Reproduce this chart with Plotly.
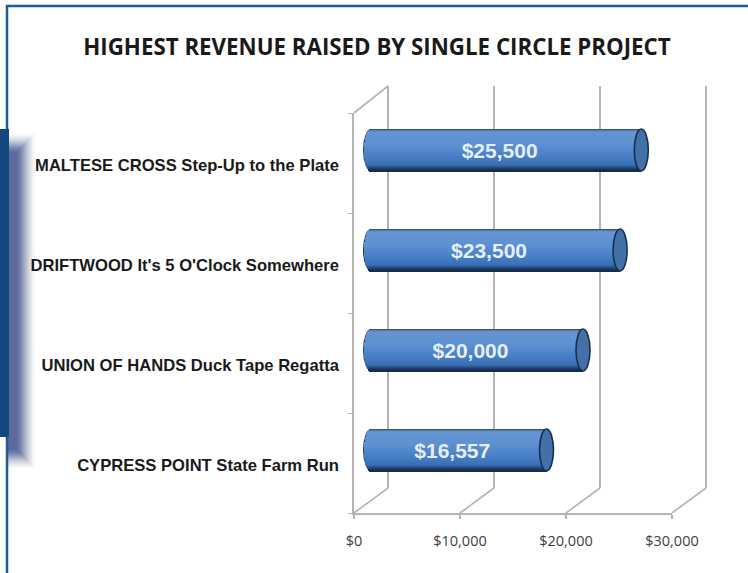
import plotly.graph_objects as go

# ---- data ----
categories = ["CYPRESS POINT State Farm Run", "UNION OF HANDS Duck Tape Regatta",
              "DRIFTWOOD It's 5 O'Clock Somewhere", "MALTESE CROSS Step-Up to the Plate"]
revenue = [16557, 20000, 23500, 25500]
value_labels = ["$16,557", "$20,000", "$23,500", "$25,500"]
x_ticks = [0, 10000, 20000, 30000]
x_tick_labels = ["$0", "$10,000", "$20,000", "$30,000"]
title_text = "<b>HIGHEST REVENUE RAISED BY SINGLE CIRCLE PROJECT</b>"

# ---- page layout (pixels) ----
W, H = 748, 573
L, R, T, B = 354, 672, 113, 513          # front plane
BDX, BDY = 34, 25                        # back plane offset
MDX, MDY = 17, 13                        # bars plane offset
XMAX = 30000
PX = XMAX / (R - L)
xd = lambda a, b: [a / W, b / W]
yd = lambda t, b: [1 - b / H, 1 - t / H]
px, py = (lambda x: x / W), (lambda y: 1 - y / H)

fig = go.Figure()

# carries the front-plane axes (ticks)
fig.add_trace(go.Bar(orientation="h", y=categories, x=revenue, marker=dict(opacity=0), xaxis="x", yaxis="y",
                     hoverinfo="skip", showlegend=False))
# carries the category labels
fig.add_trace(go.Bar(orientation="h", y=categories, x=revenue, marker=dict(opacity=0), xaxis="x", yaxis="y5",
                     hoverinfo="skip", showlegend=False))
# carries the back-plane gridlines
fig.add_trace(go.Scatter(x=[0], y=[0], xaxis="x2", yaxis="y2", mode="markers", marker=dict(opacity=0),
                         hoverinfo="skip", showlegend=False))

# cylinder body: stacked 1px strips, vertical gradient
stops = [(0.0, (45, 62, 84)), (0.03, (80, 120, 170)), (0.07, (102, 150, 210)), (0.35, (94, 146, 210)),
         (0.65, (72, 128, 198)), (0.86, (56, 110, 180)), (0.94, (30, 64, 108)), (1.0, (20, 40, 66))]
def col(t):
    for (a, ca), (b, cb) in zip(stops, stops[1:]):
        if t <= b:
            f = (t - a) / (b - a)
            return "rgb(%d,%d,%d)" % tuple(ca[i] + f * (cb[i] - ca[i]) for i in range(3))
    return "rgb(20,40,66)"

BAR_PX = 42
RX_PX = 7
for k in range(BAR_PX):
    t = (k + 0.5) / BAR_PX
    e = RX_PX * PX * (1 - (2 * t - 1) ** 2) ** 0.5
    fig.add_trace(go.Bar(
        orientation="h", y=categories, x=[v + e for v in revenue], base=[-e] * 4,
        width=1.4 / 100, offset=(BAR_PX / 2 - k - 1.2) / 100, cliponaxis=False,
        marker=dict(color=col(t), line=dict(width=0)),
        xaxis="x3", yaxis="y3", hoverinfo="skip", showlegend=False))

# value labels
fig.add_trace(go.Scatter(
    x=[v / 2 for v in revenue], y=categories, mode="text", text=["<b>%s</b>" % s for s in value_labels],
    textposition="middle center", textfont=dict(family="Liberation Sans", size=21, color="#e6eef8"),
    xaxis="x4", yaxis="y4", hoverinfo="skip", showlegend=False, cliponaxis=False))

axis_line = "#b4b4b4"
common_x = dict(tickvals=x_ticks, fixedrange=True, automargin=False)
pad = 2 * PX
pad3 = 10 * PX
hidden_cat = dict(type="category", categoryorder="array", categoryarray=categories, range=[-0.5, 3.5], showgrid=False,
                  zeroline=False, fixedrange=True, automargin=False)
fig.update_layout(
    template="none",
    barmode="overlay",
    width=W, height=H, autosize=False, margin=dict(l=0, r=0, t=0, b=0, pad=0),
    paper_bgcolor="white", plot_bgcolor="rgba(0,0,0,0)", bargap=0,
    title=dict(text=title_text, x=377 / W, xanchor="center", y=1 - 47 / H, yanchor="middle",
               font=dict(family="Open Sans", size=22.3, color="#1a1a1a")),
    # front plane: axis labels and ticks
    xaxis=dict(domain=xd(L, R), range=[0, XMAX], ticktext=x_tick_labels, showgrid=False, zeroline=False,
               showline=True, linecolor=axis_line, linewidth=2, ticks="outside", ticklen=4, tickcolor=axis_line,
               tickwidth=2, ticklabelstandoff=10,
               tickfont=dict(family="Open Sans", size=14.5, color="#404040"), anchor="y", **common_x),
    yaxis=dict(domain=yd(T, B), tickson="boundaries", showline=True, linecolor=axis_line, linewidth=2,
               ticks="outside", ticklen=4, tickcolor=axis_line, tickwidth=1, showticklabels=False, anchor="x",
               **hidden_cat),
    # category labels
    yaxis5=dict(domain=yd(T + 2, B + 2), anchor="free", position=L / W, showline=False, ticks="",
                ticklabelstandoff=15, tickfont=dict(family="Liberation Sans", size=16.6, color="#1a1a1a"),
                tickprefix="<b>", ticksuffix="</b>", **hidden_cat),
    # back plane: gridlines
    xaxis2=dict(domain=xd(L + BDX - 2, R + BDX + 2), range=[-pad, XMAX + pad], showgrid=True,
                gridcolor=axis_line, gridwidth=2, zeroline=False, showticklabels=False, ticks="", anchor="y2",
                **common_x),
    yaxis2=dict(domain=yd(T - BDY - 2, B - BDY), range=[0, 1], showgrid=False, zeroline=False,
                showticklabels=False, anchor="x2", fixedrange=True, automargin=False),
    # bars plane
    xaxis3=dict(domain=xd(L + MDX - 10, R + MDX), range=[-pad3, XMAX], showgrid=False, zeroline=False,
                showticklabels=False, ticks="", anchor="y3", **common_x),
    yaxis3=dict(domain=yd(T - MDY, B - MDY), showticklabels=False, ticks="", anchor="x3", **hidden_cat),
    # value labels plane
    xaxis4=dict(domain=xd(L + MDX - 6.5, R + MDX - 6.5), range=[0, XMAX], showgrid=False, zeroline=False,
                showticklabels=False, ticks="", anchor="y4", **common_x),
    yaxis4=dict(domain=yd(T - MDY + 3, B - MDY + 3), showticklabels=False, ticks="", anchor="x4", **hidden_cat),
)

shapes = []
# floor / wall diagonals
for t in x_ticks:
    x0 = L + t / PX
    shapes.append(dict(type="line", xref="paper", yref="paper", x0=px(x0), y0=py(B), x1=px(x0 + BDX), y1=py(B - BDY),
                       line=dict(color=axis_line, width=1.6), layer="below"))
shapes.append(dict(type="line", xref="paper", yref="paper", x0=px(L), y0=py(T), x1=px(L + BDX), y1=py(T - BDY - 2),
                   line=dict(color=axis_line, width=1.6), layer="below"))
for i, (v, c) in enumerate(zip(revenue, categories)):
    yc = B - MDY - (i + .5) * 100
    # left-end outline, drawn just outside the strips
    shapes.append(dict(type="circle", xref="paper", yref="paper",
                       x0=px(L + MDX - RX_PX - 1), x1=px(L + MDX + RX_PX + 1),
                       y0=py(yc + BAR_PX / 2), y1=py(yc - BAR_PX / 2),
                       fillcolor="#1d3554", line=dict(width=0), layer="below"))
    shapes.append(dict(type="circle", xref="x3", yref="paper",
                       x0=v - RX_PX * PX, x1=v + RX_PX * PX,
                       y0=py(yc + BAR_PX / 2), y1=py(yc - BAR_PX / 2),
                       fillcolor="#4470a8", line=dict(color="#14304f", width=1.6), layer="above"))
# frame
frame = "#1f5a94"
shapes.append(dict(type="line", xref="paper", yref="paper", x0=px(7), x1=px(7), y0=py(5), y1=py(573),
                   line=dict(color=frame, width=2.5), layer="above"))
shapes.append(dict(type="line", xref="paper", yref="paper", x0=px(6), x1=px(748), y0=py(6), y1=py(6),
                   line=dict(color=frame, width=2.5), layer="above"))
# soft shadow of the side panel
shadow_alpha = [0.03, 0.04, 0.05, 0.06, 0.08, 0.09, 0.11, 0.13, 0.15, 0.17, 0.2, 0.2, 0.2, 0.2]
for i, a in enumerate(shadow_alpha):
    inset = i * 1.4
    shapes.append(dict(type="rect", xref="paper", yref="paper", x0=px(8), x1=px(35 - inset),
                       y0=py(134 + inset), y1=py(468 - inset), fillcolor="#3f4f8a", opacity=a,
                       line=dict(width=0), layer="above"))
# side panel
shapes.append(dict(type="rect", xref="paper", yref="paper", x0=0, x1=px(9), y0=py(129), y1=py(437),
                   fillcolor="#15487f", line=dict(width=0), layer="above"))
fig.update_layout(shapes=shapes)
fig.write_html("out.html", config={"displayModeBar": False}, post_script="document.body.style.margin='0';")
